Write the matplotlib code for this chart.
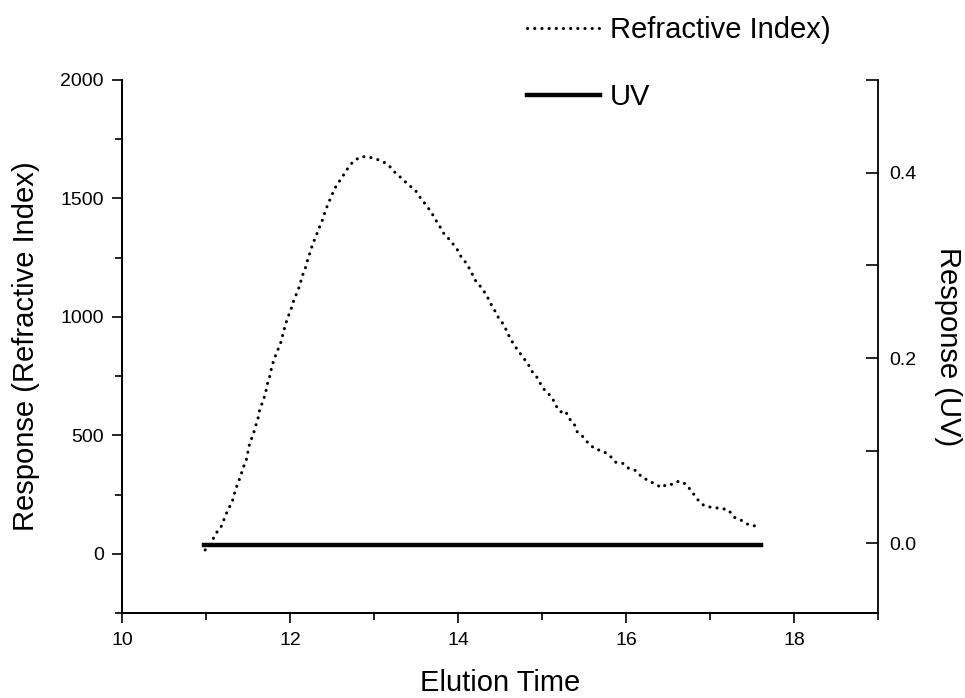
import matplotlib
matplotlib.use("Agg")
import matplotlib.pyplot as plt
from matplotlib.ticker import MultipleLocator

plt.rcParams['font.family'] = ['Liberation Sans', 'DejaVu Sans']

# Refractive index trace (left axis)
ri_time = [10.99, 11.07, 11.11, 11.18, 11.22, 11.26, 11.31, 11.34, 11.37, 11.41,
           11.44, 11.48, 11.52, 11.56, 11.59, 11.62, 11.64, 11.68, 11.71, 11.73,
           11.76, 11.78, 11.81, 11.85, 11.89, 11.94, 11.97, 12.01, 12.04, 12.08,
           12.12, 12.14, 12.18, 12.21, 12.24, 12.27, 12.31, 12.35, 12.39, 12.42,
           12.46, 12.50, 12.55, 12.62, 12.68, 12.75, 12.84, 12.92, 13.02, 13.11,
           13.19, 13.26, 13.34, 13.41, 13.49, 13.56, 13.63, 13.69, 13.73, 13.78,
           13.83, 13.91, 13.99, 14.04, 14.11, 14.16, 14.21, 14.28, 14.34, 14.38,
           14.43, 14.48, 14.55, 14.59, 14.64, 14.70, 14.77, 14.84, 14.89, 14.95,
           15.00, 15.06, 15.12, 15.16, 15.22, 15.28, 15.32, 15.38, 15.42, 15.48,
           15.56, 15.64, 15.72, 15.81, 15.88, 15.96, 16.03, 16.12, 16.19, 16.27,
           16.35, 16.43, 16.48, 16.56, 16.63, 16.71, 16.78, 16.85, 16.93, 17.03,
           17.13, 17.22, 17.29, 17.38, 17.47, 17.56]
ri_resp = [16, 51, 82, 114, 150, 185, 217, 255, 289, 325,
           361, 396, 466, 501, 537, 572, 610, 645, 680, 715,
           750, 784, 821, 856, 891, 959, 994, 1029, 1064, 1100,
           1135, 1167, 1202, 1240, 1273, 1307, 1341, 1378, 1412, 1447,
           1482, 1515, 1553, 1589, 1623, 1655, 1676, 1676, 1667, 1655,
           1634, 1606, 1582, 1557, 1536, 1499, 1468, 1437, 1412, 1384,
           1353, 1322, 1285, 1252, 1222, 1187, 1153, 1123, 1092, 1062,
           1032, 998, 965, 931, 898, 865, 832, 797, 765, 741,
           705, 680, 661, 628, 599, 603, 572, 551, 515, 497,
           463, 441, 435, 413, 386, 382, 361, 351, 323, 309,
           293, 279, 293, 293, 307, 295, 265, 230, 203, 195,
           192, 185, 154, 140, 120, 117]

# UV trace (right axis)
uv_time = [10.98, 12.0, 13.0, 14.0, 15.0, 16.0, 17.0, 17.61]
uv_resp = [-0.002, -0.002, -0.002, -0.002, -0.002, -0.002, -0.002, -0.002]

x_ticks = [10, 12, 14, 16, 18]
left_ticks = [0, 500, 1000, 1500, 2000]
right_ticks = [0.0, 0.2, 0.4]
right_labels = ['0.0', '0.2', '0.4']

fig = plt.figure(figsize=(9.65, 6.98), dpi=100)
ax = fig.add_axes([0.1264, 0.1218, 0.7834, 0.7636])
ax2 = ax.twinx()

l1, = ax.plot(ri_time, ri_resp, color='black', lw=2.2,
              linestyle=(0, (0.05, 2.3)), dash_capstyle='round',
              label='Refractive Index)')
l2, = ax2.plot(uv_time, uv_resp, color='black', lw=3.2, label='UV')

ax.set_xlim(10, 19)
ax.set_ylim(-250, 2000)
ax2.set_ylim(-0.075, 0.5001)

ax.set_xticks(x_ticks)
ax.xaxis.set_minor_locator(MultipleLocator(1))
ax.set_yticks(left_ticks)
ax.yaxis.set_minor_locator(MultipleLocator(250))
ax2.set_yticks(right_ticks)
ax2.set_yticklabels(right_labels)
ax2.yaxis.set_minor_locator(MultipleLocator(0.1))

for a in (ax, ax2):
    a.spines['top'].set_visible(False)
    for s in a.spines.values():
        s.set_linewidth(1.3)

ax.spines['right'].set_visible(False)
ax.tick_params(axis='both', which='major', direction='out', length=7, width=1.2,
               labelsize=14)
ax.tick_params(axis='x', which='major', pad=7)
ax.tick_params(axis='y', which='major', pad=6)
ax.tick_params(axis='both', which='minor', direction='out', length=5, width=1.2)
ax2.tick_params(axis='y', which='major', direction='in', length=9, width=1.2,
                labelsize=14, pad=8)
ax2.tick_params(axis='y', which='minor', direction='in', length=9, width=1.2)

ax.set_xlabel('Elution Time', fontsize=21, labelpad=14)
ax.set_ylabel('Response (Refractive Index)', fontsize=21, labelpad=15)
ax2.set_ylabel('Response (UV)', fontsize=21, rotation=270, labelpad=33)

fig.legend(handles=[l1, l2], loc='upper left',
           bbox_to_anchor=(527 / 965, 1 - 16 / 698), frameon=False,
           fontsize=21, handlelength=2.5, handletextpad=0.35, labelspacing=1.35,
           borderpad=0, borderaxespad=0)

fig.savefig('out.png', dpi=100)
